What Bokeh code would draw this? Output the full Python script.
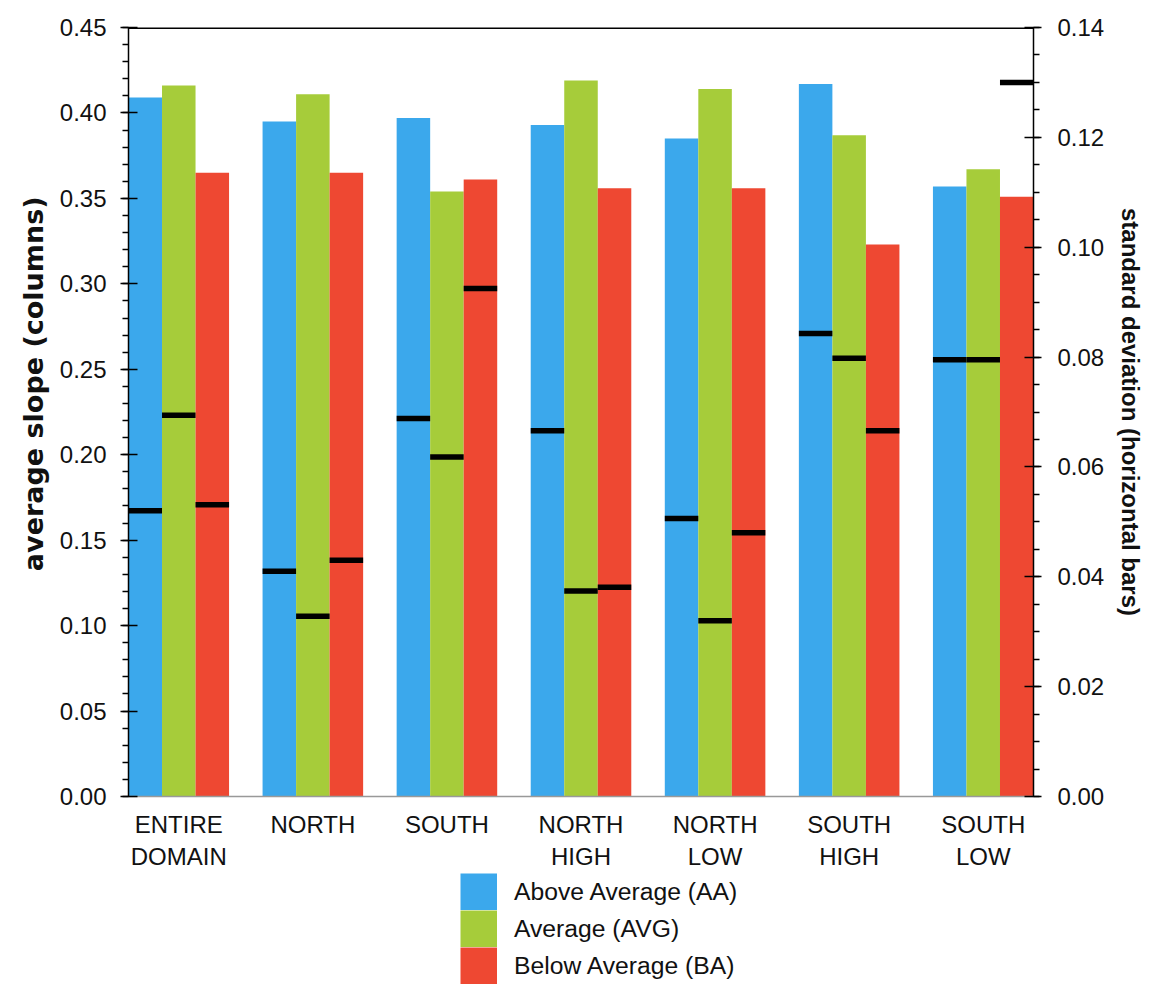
from bokeh.plotting import figure
from bokeh.layouts import column
from bokeh.models import (Range1d, LinearAxis, SingleIntervalTicker, NumeralTickFormatter,
                          FixedTicker, Legend, LegendItem, Span)
from bokeh.embed import file_html
from bokeh.resources import INLINE

# ---- data ----
regions = ["ENTIRE\nDOMAIN", "NORTH", "SOUTH", "NORTH\nHIGH", "NORTH\nLOW", "SOUTH\nHIGH", "SOUTH\nLOW"]
series = ["Above Average (AA)", "Average (AVG)", "Below Average (BA)"]
colors = ["#3BA8EC", "#A6CC3A", "#EE4832"]

slope_aa = [0.409, 0.395, 0.397, 0.393, 0.385, 0.417, 0.357]
slope_avg = [0.416, 0.411, 0.354, 0.419, 0.414, 0.387, 0.367]
slope_ba = [0.365, 0.365, 0.361, 0.356, 0.356, 0.323, 0.351]

sd_aa = [0.0520, 0.0410, 0.0688, 0.0666, 0.0506, 0.0843, 0.0795]
sd_avg = [0.0694, 0.0328, 0.0618, 0.0374, 0.0320, 0.0798, 0.0795]
sd_ba = [0.0531, 0.0430, 0.0925, 0.0381, 0.0480, 0.0666, 0.1300]

left_label = "average slope (columns)"
right_label = "standard deviation (horizontal bars)"

slopes = [slope_aa, slope_avg, slope_ba]
sds = [sd_aa, sd_avg, sd_ba]

FONT = "Liberation Sans"
n = len(regions)
centers = [4 * i + 2 for i in range(n)]

p = figure(frame_width=905, frame_height=769, x_range=Range1d(0.5, 4 * n - 0.5), y_range=Range1d(0, 0.45),
           output_backend="svg", toolbar_location=None,
           min_border_left=128, min_border_right=118, min_border_top=27, min_border_bottom=72)
p.extra_y_ranges = {"sd": Range1d(0, 0.14)}
p.grid.visible = False
p.outline_line_color = None
p.background_fill_color = "white"
p.border_fill_color = "white"

for j in range(3):
    xs = [c + j - 1 for c in centers]
    p.vbar(x=xs, top=slopes[j], width=1.0, bottom=0, fill_color=colors[j], line_color=None)

for j in range(3):
    xs = [c + j - 1 for c in centers]
    p.rect(x=xs, y=sds[j], width=1.0, height=5.5, height_units="screen",
           y_range_name="sd", fill_color="black", line_color=None)

p.add_layout(Span(location=0.45, dimension="width", line_color="black", line_width=3))

# x axis
xa = p.xaxis[0]
xa.ticker = FixedTicker(ticks=centers)
xa.major_label_overrides = {c: lab for c, lab in zip(centers, regions)}
xa.axis_line_color = "#999999"
xa.axis_line_width = 1.5
xa.major_tick_in = 0
xa.major_tick_out = 0
xa.minor_tick_in = 0
xa.minor_tick_out = 0
xa.major_label_standoff = 14
xa.major_label_text_font = FONT
xa.major_label_text_font_size = "24px"
xa.major_label_text_color = "#111111"

# left axis
ya = p.yaxis[0]
ya.ticker = SingleIntervalTicker(interval=0.05, num_minor_ticks=5)
ya.formatter = NumeralTickFormatter(format="0.00")
ya.axis_label = "\u00a0" * 6 + left_label

# right axis
ra = LinearAxis(y_range_name="sd", ticker=SingleIntervalTicker(interval=0.02, num_minor_ticks=4),
                formatter=NumeralTickFormatter(format="0.00"),
                axis_label=right_label)
p.add_layout(ra, "right")

for ax, st in ((ya, 14), (ra, 16)):
    ax.axis_line_color = "black"
    ax.axis_line_width = 1.5
    ax.major_tick_line_color = "black"
    ax.major_tick_line_width = 1.5
    ax.minor_tick_line_color = "black"
    ax.minor_tick_line_width = 1.5
    ax.major_tick_in = 9
    ax.major_tick_out = 8
    ax.minor_tick_in = 0
    ax.minor_tick_out = 6
    ax.major_label_standoff = st
    ax.major_label_text_font = FONT
    ax.major_label_text_font_size = "24px"
    ax.major_label_text_color = "#111111"
    ax.axis_label_text_font_style = "bold"
    ax.axis_label_text_color = "#111111"
    ax.axis_label_standoff = 10

ya.axis_label_text_font = "DejaVu Sans"
ya.axis_label_text_font_size = "27px"
ya.axis_label_standoff = 8
ra.axis_label_text_font = FONT
ra.axis_label_text_font_size = "24px"

# ---- legend (separate strip below the chart) ----
LH = 130
q = figure(width=1151, height=LH, x_range=Range1d(0, 1), y_range=Range1d(0, 1),
           output_backend="svg", toolbar_location=None,
           x_axis_location=None, y_axis_location=None,
           min_border_left=0, min_border_right=0, min_border_top=0, min_border_bottom=0)
q.grid.visible = False
q.outline_line_color = None
q.background_fill_color = "white"
q.border_fill_color = "white"

swatches = []
for c in colors:
    # one point far outside the visible range: only its legend swatch shows
    r = q.scatter(x=[-10], y=[-10], marker="square", size=10, fill_color=c, line_color=c,
                  line_width=22.2, line_join="miter")
    swatches.append(r)

legend = Legend(items=[LegendItem(label=s, renderers=[r]) for s, r in zip(series, swatches)],
                location=(332, 18), orientation="vertical",
                glyph_width=37, glyph_height=37, spacing=0, padding=0, margin=0,
                label_standoff=17, border_line_color=None, background_fill_alpha=0,
                label_text_font=FONT, label_text_font_size="24.7px", label_text_color="#111111")
q.add_layout(legend, "center")

layout = column(p, q, spacing=0)
open("out.html", "w").write(file_html(layout, INLINE))
